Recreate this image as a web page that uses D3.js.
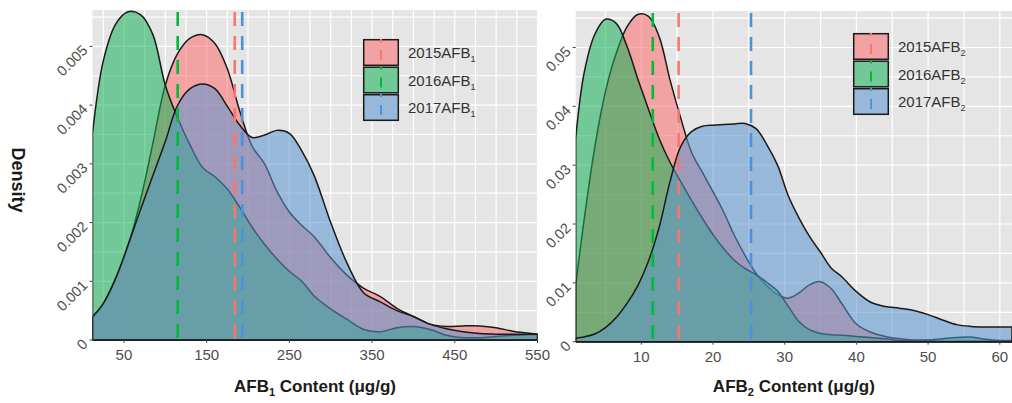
<!DOCTYPE html>
<html lang="en">
<head>
<meta charset="UTF-8">
<title>AFB density</title>
<script src="https://cdn.jsdelivr.net/npm/d3@7"></script>
<style>
  body { margin: 0; background: #fff; }
  text { font-family: "Liberation Sans", Arial, sans-serif; }
</style>
</head>
<body>
<script>
// ---- data: AFB1 panel ----
var afb1X = [12, 25, 40, 55, 70, 85, 100, 115, 130, 145, 160, 175, 190, 205, 220, 235, 250, 265, 280,
             300, 320, 340, 360, 380, 400, 420, 440, 460, 480, 500, 520, 550];
var afb1_2015 = [0.00037, 0.00062, 0.00105, 0.00160, 0.00238, 0.00335, 0.00434, 0.00488, 0.00514, 0.00520,
                 0.00505, 0.00462, 0.00390, 0.00330, 0.00300, 0.00253, 0.00218, 0.00195, 0.00176,
                 0.00140, 0.00110, 0.00088, 0.00074, 0.00054, 0.00040, 0.00027, 0.00023, 0.00024,
                 0.00024, 0.00021, 0.00015, 0.00010];
var afb1_2016 = [0.00352, 0.00475, 0.00538, 0.00559, 0.00554, 0.00520, 0.00434, 0.00378, 0.00332, 0.00294,
                 0.00278, 0.00257, 0.00226, 0.00192, 0.00163, 0.00138, 0.00117, 0.00100, 0.00075,
                 0.00053, 0.00035, 0.00018, 0.00014, 0.00021, 0.00023, 0.00018, 0.00008, 0.00004,
                 0.00004, 0.00006, 0.00008, 0.00010];
var afb1_2017 = [0.00040, 0.00062, 0.00105, 0.00162, 0.00222, 0.00280, 0.00338, 0.00400, 0.00428, 0.00436,
                 0.00428, 0.00398, 0.00366, 0.00345, 0.00349, 0.00357, 0.00352, 0.00322, 0.00280,
                 0.00200, 0.00130, 0.00080, 0.00065, 0.00050, 0.00040, 0.00027, 0.00019, 0.00014,
                 0.00011, 0.00010, 0.00010, 0.00010];
var afb1Means = [184, 115, 193];

// ---- data: AFB2 panel ----
var afb2X = [0.85, 2, 3.5, 5, 6.5, 8, 9.5, 11, 12.5, 14, 15.5, 17, 18.5, 20, 21.5, 23, 24.5, 26, 27.5, 29,
             30.5, 32, 33.5, 35, 36.5, 38, 40, 42, 44, 46, 48, 50, 52, 54, 56, 58, 60, 61.7];
var afb2_2015 = [0.0096, 0.0205, 0.0330, 0.0425, 0.0490, 0.0535, 0.0556, 0.0553, 0.0518, 0.0445, 0.0380,
                 0.0322, 0.0288, 0.0255, 0.0220, 0.0180, 0.0146, 0.0116, 0.0095, 0.0080, 0.0074, 0.0083,
                 0.0097, 0.0102, 0.0090, 0.0064, 0.0030, 0.0016, 0.0009, 0.0005, 0.0003, 0.0002, 0.0001,
                 0.0001, 0.0001, 0.0001, 0.0001, 0.0001];
var afb2_2016 = [0.0346, 0.0455, 0.0522, 0.0548, 0.0541, 0.0502, 0.0447, 0.0395, 0.0345, 0.0305, 0.0272,
                 0.0240, 0.0210, 0.0182, 0.0158, 0.0138, 0.0124, 0.0114, 0.0101, 0.0086, 0.0060, 0.0034,
                 0.0020, 0.0014, 0.0012, 0.0011, 0.0009, 0.0007, 0.0005, 0.0002, 0.0002, 0.0003, 0.0005,
                 0.0007, 0.0008, 0.0004, 0.0002, 0.0002];
var afb2_2017 = [0.0006, 0.0008, 0.0013, 0.0024, 0.0041, 0.0065, 0.0095, 0.0137, 0.0195, 0.0272, 0.0332,
                 0.0357, 0.0366, 0.0368, 0.0369, 0.0370, 0.0371, 0.0362, 0.0335, 0.0300, 0.0248, 0.0210,
                 0.0178, 0.0152, 0.0125, 0.0110, 0.0085, 0.0067, 0.0060, 0.0057, 0.0053, 0.0046, 0.0037,
                 0.0029, 0.0026, 0.0025, 0.0025, 0.0025];
var afb2Means = [15.2, 11.6, 25.3];

var years = ['2015', '2016', '2017'];
var fillColors = ['#FD6C6C', '#14B156', '#5A94D0'];
var lineColors = ['#F8766D', '#00BA38', '#4C92DA'];

var afb1XTicks = [50, 150, 250, 350, 450, 550];
var afb1YTicks = [0, 0.001, 0.002, 0.003, 0.004, 0.005];
var afb2XTicks = [10, 20, 30, 40, 50, 60];
var afb2YTicks = [0, 0.01, 0.02, 0.03, 0.04, 0.05];

var width = 1012, height = 403;
var svg = d3.select('body').append('svg')
    .attr('width', width)
    .attr('height', height);

function drawPanel(p) {
    var x = d3.scaleLinear().domain(p.xDomain).range([p.left, p.right]);
    var y = d3.scaleLinear().domain(p.yDomain).range([p.bottom, p.top]);
    var g = svg.append('g');

    // panel background
    g.append('rect')
        .attr('x', p.left).attr('y', p.top)
        .attr('width', p.right - p.left).attr('height', p.bottom - p.top)
        .attr('fill', '#E5E5E5');

    // grid lines
    g.selectAll('.vgrid').data(d3.range(p.xGridStart, p.xDomain[1] + 1e-9, p.xGridStep))
        .enter().append('line')
        .attr('x1', function(d) { return x(d); }).attr('x2', function(d) { return x(d); })
        .attr('y1', p.top).attr('y2', p.bottom)
        .attr('stroke', '#fff').attr('stroke-width', 1.2);
    g.selectAll('.hgrid').data(d3.range(p.yGridStep, p.yDomain[1], p.yGridStep))
        .enter().append('line')
        .attr('x1', p.left).attr('x2', p.right)
        .attr('y1', function(d) { return y(d); }).attr('y2', function(d) { return y(d); })
        .attr('stroke', '#fff').attr('stroke-width', 1.2);

    var clipId = 'clip' + p.id;
    svg.append('clipPath').attr('id', clipId).append('rect')
        .attr('x', p.left).attr('y', p.top - 2)
        .attr('width', p.right - p.left).attr('height', p.bottom - p.top + 4);

    var area = d3.area()
        .x(function(d) { return x(d[0]); })
        .y0(y(0))
        .y1(function(d) { return y(d[1]); })
        .curve(d3.curveCatmullRom.alpha(0.5));

    var plot = g.append('g').attr('clip-path', 'url(#' + clipId + ')');
    p.series.forEach(function(vals, i) {
        var pts = p.xs.map(function(v, j) { return [v, vals[j]]; });
        plot.append('path')
            .datum(pts)
            .attr('d', area)
            .attr('fill', fillColors[i])
            .attr('fill-opacity', 0.55)
            .attr('stroke', '#1a1a1a')
            .attr('stroke-width', 1.5)
            .attr('stroke-linejoin', 'round');
    });

    // mean lines
    plot.selectAll('.mean').data(p.means).enter().append('line')
        .attr('x1', function(d) { return x(d); }).attr('x2', function(d) { return x(d); })
        .attr('y1', p.top + 2).attr('y2', p.bottom)
        .attr('stroke', function(d, i) { return lineColors[i]; })
        .attr('stroke-width', 2.6)
        .attr('stroke-dasharray', '14,10');

    // x axis
    var xa = g.append('g');
    xa.selectAll('line').data(p.xTicks).enter().append('line')
        .attr('x1', function(d) { return x(d); }).attr('x2', function(d) { return x(d); })
        .attr('y1', p.bottom).attr('y2', p.bottom + 3)
        .attr('stroke', '#444').attr('stroke-width', 1);
    xa.selectAll('text').data(p.xTicks).enter().append('text')
        .attr('x', function(d) { return x(d); })
        .attr('y', p.bottom + 20)
        .attr('text-anchor', 'middle')
        .attr('font-size', '15px')
        .attr('fill', '#4D4D4D')
        .text(function(d) { return d; });

    // y axis
    var ya = g.append('g');
    ya.selectAll('line').data(p.yTicks).enter().append('line')
        .attr('x1', p.left - 3).attr('x2', p.left)
        .attr('y1', function(d) { return y(d); }).attr('y2', function(d) { return y(d); })
        .attr('stroke', '#444').attr('stroke-width', 1);
    ya.selectAll('text').data(p.yTicks).enter().append('text')
        .attr('transform', function(d) {
            return 'translate(' + (p.left - 4) + ',' + (y(d) + 5) + ') rotate(-45)';
        })
        .attr('text-anchor', 'end')
        .attr('font-size', '14.5px')
        .attr('fill', '#4D4D4D')
        .text(function(d) { return d; });

    // x title
    var t = g.append('text')
        .attr('x', (p.left + p.right) / 2 + p.titleShift)
        .attr('y', 392)
        .attr('text-anchor', 'middle')
        .attr('font-size', '17px')
        .attr('font-weight', 'bold')
        .attr('fill', '#1a1a1a');
    t.append('tspan').text('AFB');
    t.append('tspan').attr('font-size', '11px').attr('dy', 4).text(p.sub);
    t.append('tspan').attr('dy', -4).text(' Content (\u03bcg/g)');

    // legend
    var lg = g.append('g').attr('transform', 'translate(' + p.legX + ',' + p.legY + ')');
    years.forEach(function(yr, i) {
        var ky = i * 27.5;
        lg.append('rect')
            .attr('x', 0).attr('y', ky)
            .attr('width', 36).attr('height', 27)
            .attr('fill', '#E5E5E5');
        lg.append('rect')
            .attr('x', 0.7).attr('y', ky + 0.7)
            .attr('width', 34.6).attr('height', 25.6)
            .attr('fill', fillColors[i]).attr('fill-opacity', 0.55)
            .attr('stroke', '#1a1a1a').attr('stroke-width', 1.5);
        lg.append('line')
            .attr('x1', 18).attr('x2', 18)
            .attr('y1', ky).attr('y2', ky + 27)
            .attr('stroke', lineColors[i]).attr('stroke-width', 2)
            .attr('stroke-dasharray', '3,8,10,8');
        var lt = lg.append('text')
            .attr('x', 45).attr('y', ky + 19)
            .attr('font-size', '15px')
            .attr('fill', '#333');
        lt.append('tspan').text(yr + 'AFB');
        lt.append('tspan').attr('font-size', '9px').attr('dy', 4).text(p.sub);
    });
}

drawPanel({
    id: 'a', xs: afb1X, series: [afb1_2015, afb1_2016, afb1_2017], means: afb1Means,
    left: 92.5, right: 537.5, top: 10, bottom: 340,
    xDomain: [12, 550], yDomain: [0, 0.00562],
    xGridStart: 25, xGridStep: 25, yGridStep: 0.0005,
    xTicks: afb1XTicks, yTicks: afb1YTicks,
    sub: '1', titleShift: 0, legX: 363, legY: 39
});

drawPanel({
    id: 'b', xs: afb2X, series: [afb2_2015, afb2_2016, afb2_2017], means: afb2Means,
    left: 575.7, right: 1012, top: 11, bottom: 341.7,
    xDomain: [0.85, 61.7], yDomain: [0, 0.0562],
    xGridStart: 5, xGridStep: 5, yGridStep: 0.005,
    xTicks: afb2XTicks, yTicks: afb2YTicks,
    sub: '2', titleShift: 0, legX: 853, legY: 33
});

// shared y title
svg.append('text')
    .attr('transform', 'translate(12,180) rotate(90)')
    .attr('text-anchor', 'middle')
    .attr('font-size', '18px')
    .attr('font-weight', 'bold')
    .attr('fill', '#1a1a1a')
    .text('Density');
</script>
</body>
</html>
